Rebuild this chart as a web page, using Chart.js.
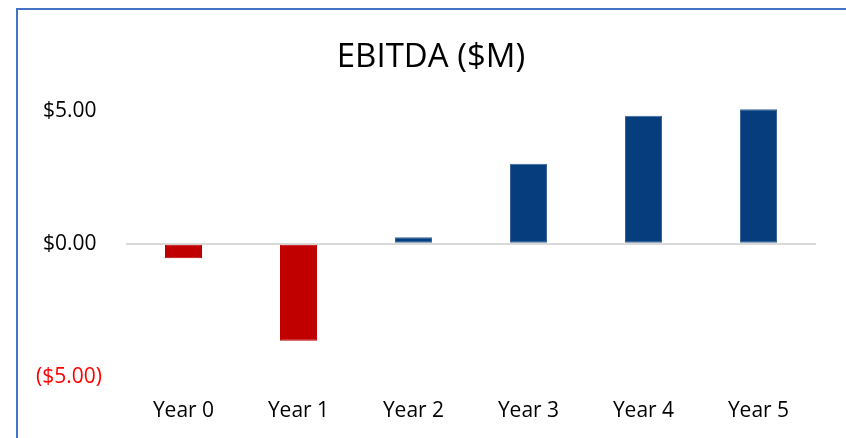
<!DOCTYPE html>
<html>
<head>
<meta charset="utf-8">
<script src="https://cdn.jsdelivr.net/npm/chart.js@4.4.1/dist/chart.umd.min.js"></script>
<style>
  html, body { margin: 0; padding: 0; background: #ffffff; overflow: hidden; }
  #wrap { position: relative; width: 846px; height: 438px; }
  #frame { position: absolute; left: 16px; top: 8px; width: 900px; height: 500px; border: 2px solid #4472C4; box-sizing: border-box; pointer-events: none; }
  canvas { position: absolute; left: 0; top: 0; }
</style>
</head>
<body>
<div id="wrap">
  <canvas id="c" width="846" height="438"></canvas>
  <div id="frame"></div>
</div>
<script>
const categories = ["Year 0", "Year 1", "Year 2", "Year 3", "Year 4", "Year 5"];
const ebitda = [-0.55, -3.65, 0.24, 3.0, 4.81, 5.05];
const yTicks = [-5, 0, 5];
const titleText = "EBITDA ($M)";

const POS = "#053D7D", NEG = "#C00000";
const FONT = "'Open Sans', 'Noto Sans', sans-serif";

function fmt(v) {
  const s = "$" + Math.abs(v).toFixed(2);
  return v < 0 ? "(" + s + ")" : s + " ";
}

const shiftTitle = {
  id: "shiftTitle",
  afterLayout(chart) {
    if (chart.titleBlock) { chart.titleBlock.left = 46; }
  }
};

new Chart(document.getElementById("c"), {
  type: "bar",
  data: {
    labels: categories,
    datasets: [{
      data: ebitda,
      backgroundColor: ebitda.map(v => v < 0 ? NEG : POS),
      borderColor: ebitda.map(v => v < 0 ? NEG : "#3C6699"),
      borderWidth: 1,
      borderSkipped: false,
      barPercentage: 0.322,
      categoryPercentage: 1.0,
      clip: false
    }]
  },
  plugins: [shiftTitle],
  options: {
    responsive: false,
    animation: false,
    devicePixelRatio: 1,
    layout: { padding: { left: 0, right: 30, top: 0, bottom: 0 } },
    plugins: {
      legend: { display: false },
      tooltip: { enabled: false },
      title: {
        display: true,
        text: titleText,
        color: "#000000",
        font: { family: FONT, size: 33, weight: "normal" },
        padding: { top: 38, bottom: 33 }
      }
    },
    scales: {
      x: {
        grid: { display: false },
        border: { display: false },
        ticks: { color: "#000000", font: { family: FONT, size: 21 }, padding: 14, maxRotation: 0 }
      },
      y: {
        min: -5,
        max: 5,
        afterBuildTicks: s => { s.ticks = yTicks.map(v => ({ value: v })); },
        afterFit: s => { s.width = 126; },
        border: { display: false },
        grid: {
          drawTicks: false,
          color: c => (c.tick && c.tick.value === 0) ? "#D9D9D9" : "rgba(0,0,0,0)",
          lineWidth: 2
        },
        ticks: {
          padding: 24,
          font: { family: FONT, size: 21 },
          color: c => (c.tick && c.tick.value < 0) ? "#FF0000" : "#000000",
          callback: v => fmt(v)
        }
      }
    }
  }
});
</script>
</body>
</html>
